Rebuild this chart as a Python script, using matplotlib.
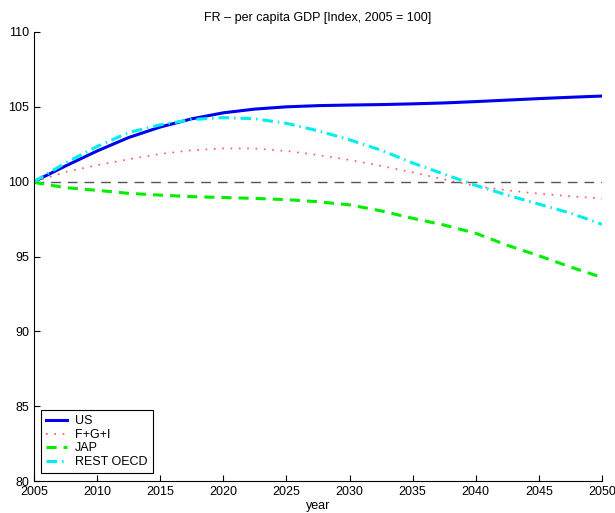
import matplotlib
matplotlib.use("Agg")
import matplotlib.pyplot as plt

years = [2005, 2007.5, 2010, 2012.5, 2015, 2017.5, 2020, 2022.5, 2025, 2027.5,
         2030, 2032.5, 2035, 2037.5, 2040, 2042.5, 2045, 2047.5, 2050]
us = [100, 101.05, 102.05, 102.95, 103.65, 104.2, 104.6, 104.85, 105.0, 105.08,
      105.12, 105.15, 105.2, 105.26, 105.35, 105.45, 105.55, 105.64, 105.72]
fgi = [100, 100.65, 101.1, 101.5, 101.85, 102.1, 102.22, 102.22, 102.05, 101.78,
       101.45, 101.05, 100.62, 100.15, 99.7, 99.42, 99.2, 99.02, 98.88]
jap = [99.95, 99.6, 99.42, 99.22, 99.1, 99.0, 98.94, 98.88, 98.8, 98.66,
       98.45, 98.05, 97.55, 97.1, 96.55, 95.75, 95.05, 94.3, 93.6]
rest = [100, 101.25, 102.35, 103.28, 103.8, 104.15, 104.28, 104.2, 103.9, 103.4,
        102.8, 102.1, 101.25, 100.5, 99.75, 99.1, 98.5, 97.9, 97.15]
baseline = [100, 100]
xticks = [2005, 2010, 2015, 2020, 2025, 2030, 2035, 2040, 2045, 2050]
yticks = [80, 85, 90, 95, 100, 105, 110]

plt.rcParams['font.family'] = ['Liberation Sans', 'DejaVu Sans']
fig = plt.figure(figsize=(6.15, 5.13), dpi=100)
ax = fig.add_axes([34/615, 1-481/513, (602-34)/615, (481-32)/513])

ax.plot([years[0], years[-1]], baseline, color='#555555', lw=1.0, ls=(0, (7, 5)))
ax.plot(years, us, color='#0000ee', lw=2.2, label='US')
ax.plot(years, fgi, color='#ff5555', lw=1.2, ls=(0, (1, 4)), label='F+G+I')
ax.plot(years, jap, color='#00ee00', lw=2.2, ls=(0, (3.3, 2.3)), label='JAP')
ax.plot(years, rest, color='#00eeee', lw=2.2, ls=(0, (3.5, 1.6, 0.5, 1.6)), label='REST OECD')

ax.set_xlim(2005, 2050)
ax.set_ylim(80, 110)
ax.set_xticks(xticks)
ax.set_yticks(yticks)
ax.tick_params(direction='in', length=4, labelsize=9, pad=3.5, width=0.8)
for s in ['top', 'right']:
    ax.spines[s].set_visible(False)
for s in ['left', 'bottom']:
    ax.spines[s].set_linewidth(0.8)
ax.set_xlabel('year', fontsize=9, labelpad=1.5)
ax.set_title('FR – per capita GDP [Index, 2005 = 100]', fontsize=9, pad=8)

leg = ax.legend(loc='lower left', bbox_to_anchor=(0.012, 0.018), borderaxespad=0,
                fontsize=9, fancybox=False, framealpha=1, edgecolor='black',
                labelspacing=0.12, handlelength=1.7, handletextpad=0.65, borderpad=0.4)
leg.get_frame().set_linewidth(0.8)

fig.savefig('out.png', dpi=100)
